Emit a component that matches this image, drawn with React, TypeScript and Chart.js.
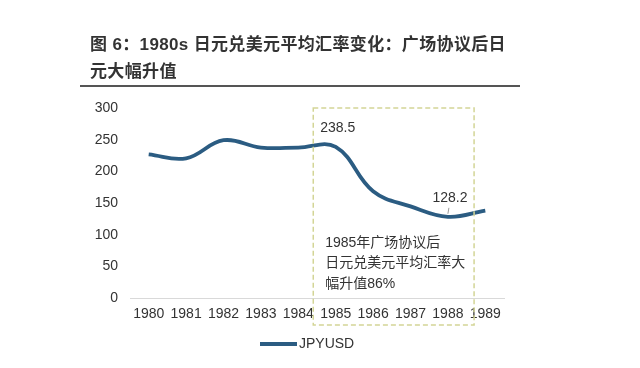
import React, { useEffect, useRef } from "react";
import { Chart, registerables } from "chart.js";

Chart.register(...registerables);

const years = ["1980", "1981", "1982", "1983", "1984", "1985", "1986", "1987", "1988", "1989"];
const jpyusd = [226.7, 220.5, 249.1, 237.5, 237.5, 238.5, 168.5, 144.6, 128.2, 138.0];
const yTicks = [0, 50, 100, 150, 200, 250, 300];
const titleLines = ["图 6：1980s 日元兑美元平均汇率变化：广场协议后日", "元大幅升值"];
const noteLines = ["1985年广场协议后", "日元兑美元平均汇率大", "幅升值86%"];
const labelledIdx = [5, 8];
const seriesName = "JPYUSD";

const LINE_COLOR = "#2b5c82";
const TEXT = "#333333";
const FONT = "'Liberation Sans', Arial, 'Noto Sans CJK SC', sans-serif";

const decorPlugin = {
  id: "decor",
  afterDraw(chart: any) {
    const ctx = chart.ctx;
    const xs = chart.scales.x;
    const ys = chart.scales.y;
    const area = chart.chartArea;
    ctx.save();
    // title
    ctx.fillStyle = "#333333";
    ctx.font = "bold 17px 'Liberation Sans', Arial, 'Noto Sans CJK SC', sans-serif";
    ctx.textBaseline = "middle";
    ctx.textAlign = "left";
    try { (ctx as any).letterSpacing = "0.35px"; } catch (e) {}
    ctx.fillText(titleLines[0], 90, 45);
    ctx.fillText(titleLines[1], 90, 72);
    try { (ctx as any).letterSpacing = "0px"; } catch (e) {}
    ctx.strokeStyle = "#555555";
    ctx.lineWidth = 2;
    ctx.beginPath();
    ctx.moveTo(80, 86);
    ctx.lineTo(520, 86);
    ctx.stroke();

    // dashed box
    const step = xs.getPixelForValue(1) - xs.getPixelForValue(0);
    const bx0 = xs.getPixelForValue(4) + 0.4 * step;
    const bx1 = xs.getPixelForValue(8) + 0.7 * step;
    const by0 = ys.getPixelForValue(300);
    const by1 = area.bottom + 27;
    ctx.strokeStyle = "#d3d596";
    ctx.lineWidth = 1.5;
    ctx.setLineDash([5, 3]);
    ctx.strokeRect(bx0, by0, bx1 - bx0, by1 - by0);
    ctx.setLineDash([]);

    // data labels
    ctx.font = "14px " + FONT;
    ctx.fillStyle = TEXT;
    ctx.textAlign = "center";
    labelledIdx.forEach((i) => {
      const px = xs.getPixelForValue(i);
      const py = ys.getPixelForValue(jpyusd[i]);
      ctx.fillText(String(jpyusd[i].toFixed(1)), px + 2, py - 19);
      if (i === 8) {
        ctx.strokeStyle = "#999999";
        ctx.lineWidth = 1;
        ctx.beginPath();
        ctx.moveTo(px + 1, py - 9);
        ctx.lineTo(px, py - 3);
        ctx.stroke();
      }
    });

    // note
    ctx.textAlign = "left";
    ctx.font = "14px " + FONT;
    const nx = xs.getPixelForValue(4) + 0.72 * step;
    noteLines.forEach((t, k) => {
      ctx.fillText(t, nx, ys.getPixelForValue(87) + k * 20.5);
    });

    // legend
    const cx = (area.left + area.right) / 2;
    const ly = area.bottom + 46;
    ctx.strokeStyle = LINE_COLOR;
    ctx.lineWidth = 4;
    ctx.beginPath();
    ctx.moveTo(cx - 57, ly);
    ctx.lineTo(cx - 20, ly);
    ctx.stroke();
    ctx.fillStyle = TEXT;
    ctx.font = "14px " + FONT;
    ctx.fillText(seriesName, cx - 18, ly);
    ctx.restore();
  },
};

export default function App() {
  const ref = useRef<HTMLCanvasElement>(null);
  useEffect(() => {
    if (!ref.current) return;
    const chart = new Chart(ref.current, {
      type: "line",
      data: {
        labels: years,
        datasets: [
          {
            label: seriesName,
            data: jpyusd,
            borderColor: LINE_COLOR,
            borderWidth: 3.8,
            pointRadius: 0,
            tension: 0.4,
            fill: false,
          },
        ],
      },
      options: {
        responsive: false,
        animation: false,
        layout: { padding: { top: 108, right: 136, left: 0, bottom: 0 } },
        plugins: { legend: { display: false }, title: { display: false }, tooltip: { enabled: false } },
        scales: {
          x: {
            offset: true,
            grid: { display: false, drawTicks: false },
            border: { display: true, color: "#d9d9d9", width: 1 },
            ticks: { color: TEXT, font: { size: 14, family: FONT }, padding: 8, maxRotation: 0 },
            afterFit: (s: any) => { s.height = 70; },
          },
          y: {
            min: 0,
            max: 300,
            grid: { display: false, drawTicks: false },
            border: { display: false },
            afterBuildTicks: (s: any) => { s.ticks = yTicks.map((v) => ({ value: v })); },
            ticks: { color: TEXT, font: { size: 14, family: FONT }, padding: 12 },
            afterFit: (s: any) => { s.width = 130; },
          },
        },
      },
      plugins: [decorPlugin],
    });
    return () => chart.destroy();
  }, []);
  return (
    <div style={{ position: "fixed", left: 0, top: 0, width: 640, height: 368, background: "#fff" }}>
      <canvas ref={ref} width={640} height={368} style={{ width: 640, height: 368 }} />
    </div>
  );
}
